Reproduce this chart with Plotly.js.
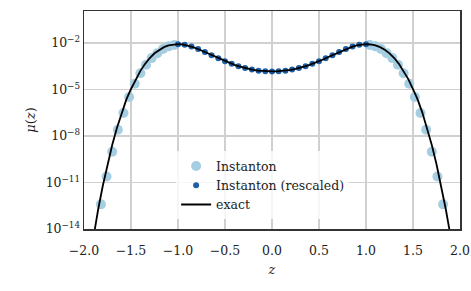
<!DOCTYPE html>
<html>
<head>
<meta charset="utf-8">
<script src="https://cdn.plot.ly/plotly-3.0.1.min.js"></script>
<style>html,body{margin:0;padding:0;background:#fff;}#plot{width:471px;height:291px;}</style>
</head>
<body>
<div id="plot"></div>
<script>
// exact curve
const exactZ = [-1.95,-1.90,-1.85,-1.80,-1.75,-1.70,-1.65,-1.60,-1.55,-1.50,-1.45,-1.40,-1.35,-1.30,-1.25,-1.20,-1.15,-1.10,-1.05,-1.00,
  -0.95,-0.90,-0.85,-0.80,-0.75,-0.70,-0.65,-0.60,-0.55,-0.50,-0.45,-0.40,-0.35,-0.30,-0.25,-0.20,-0.15,-0.10,-0.05,0.00,
  0.05,0.10,0.15,0.20,0.25,0.30,0.35,0.40,0.45,0.50,0.55,0.60,0.65,0.70,0.75,0.80,0.85,0.90,0.95,1.00,
  1.05,1.10,1.15,1.20,1.25,1.30,1.35,1.40,1.45,1.50,1.55,1.60,1.65,1.70,1.75,1.80,1.85,1.90,1.95];
const exactMu = [4.27e-17,3.31e-15,1.74e-13,6.17e-12,1.51e-10,2.63e-9,3.31e-8,3.09e-7,2.19e-6,1.07e-5,4.68e-5,1.58e-4,4.47e-4,1.07e-3,2.14e-3,3.63e-3,5.37e-3,6.92e-3,7.94e-3,8.32e-3,
  7.94e-3,6.92e-3,5.62e-3,4.37e-3,3.24e-3,2.40e-3,1.70e-3,1.23e-3,8.91e-4,6.61e-4,5.01e-4,3.89e-4,3.09e-4,2.51e-4,2.14e-4,1.86e-4,1.66e-4,1.55e-4,1.48e-4,1.45e-4,
  1.48e-4,1.55e-4,1.66e-4,1.86e-4,2.14e-4,2.51e-4,3.09e-4,3.89e-4,5.01e-4,6.61e-4,8.91e-4,1.23e-3,1.70e-3,2.40e-3,3.24e-3,4.37e-3,5.62e-3,6.92e-3,7.94e-3,8.32e-3,
  7.94e-3,6.92e-3,5.37e-3,3.63e-3,2.14e-3,1.07e-3,4.47e-4,1.58e-4,4.68e-5,1.07e-5,2.19e-6,3.09e-7,3.31e-8,2.63e-9,1.51e-10,6.17e-12,1.74e-13,3.31e-15,4.27e-17];

// Instanton (tails)
const instZ = [-1.82,-1.76,-1.70,-1.64,-1.58,-1.52,-1.46,-1.40,-1.34,-1.28,-1.22,-1.16,-1.10,-1.04,
  1.04,1.10,1.16,1.22,1.28,1.34,1.40,1.46,1.52,1.58,1.64,1.70,1.76,1.82];
const instMu = [3.89e-13,2.45e-11,9.55e-10,2.51e-8,3.02e-7,3.24e-6,2.34e-5,1.12e-4,3.89e-4,1.05e-3,2.19e-3,4.07e-3,6.03e-3,7.41e-3,
  7.41e-3,6.03e-3,4.07e-3,2.19e-3,1.05e-3,3.89e-4,1.12e-4,2.34e-5,3.24e-6,3.02e-7,2.51e-8,9.55e-10,2.45e-11,3.89e-13];

// Instanton (rescaled), middle
const rescZ = [-1.0,-0.929,-0.857,-0.786,-0.714,-0.643,-0.571,-0.5,-0.429,-0.357,-0.286,-0.214,-0.143,-0.071,0,
  0.071,0.143,0.214,0.286,0.357,0.429,0.5,0.571,0.643,0.714,0.786,0.857,0.929,1.0];
const rescMu = [8.32e-3,7.59e-3,5.89e-3,4.07e-3,2.63e-3,1.62e-3,1.02e-3,6.61e-4,4.47e-4,3.16e-4,2.40e-4,1.91e-4,1.62e-4,1.48e-4,1.45e-4,
  1.48e-4,1.62e-4,1.91e-4,2.40e-4,3.16e-4,4.47e-4,6.61e-4,1.02e-3,1.62e-3,2.63e-3,4.07e-3,5.89e-3,7.59e-3,8.32e-3];

const xTicks = [-2.0,-1.5,-1.0,-0.5,0.0,0.5,1.0,1.5,2.0];
const xTickText = ['\u22122.0','\u22121.5','\u22121.0','\u22120.5','0.0','0.5','1.0','1.5','2.0'];
const yTicks = [1e-14,1e-11,1e-8,1e-5,1e-2];
const yTickText = ['10<sup>\u221214</sup>','10<sup>\u221211</sup>','10<sup>\u22128</sup>','10<sup>\u22125</sup>','10<sup>\u22122</sup>'];

const FONT = 'DejaVu Serif';

const traces = [
  {x: instZ, y: instMu, type: 'scatter', mode: 'markers', name: 'Instanton',
   marker: {color: '#a6cee3', size: 10, line: {width: 0}}},
  {x: rescZ, y: rescMu, type: 'scatter', mode: 'markers', name: 'Instanton (rescaled)',
   marker: {color: '#1f5fa6', size: 6, line: {width: 0}}},
  {x: exactZ, y: exactMu, type: 'scatter', mode: 'lines', name: 'exact',
   line: {color: '#000000', width: 1.8}}
];

const layout = {
  width: 471, height: 291,
  margin: {l: 84, r: 11, t: 11, b: 62, pad: 0},
  paper_bgcolor: '#ffffff', plot_bgcolor: '#ffffff',
  font: {family: FONT, size: 12, color: '#222222'},
  showlegend: true,
  legend: {x: 0.245, y: 0.356, xanchor: 'left', yanchor: 'top',
    bgcolor: 'rgba(255,255,255,0.8)', borderwidth: 0, tracegroupgap: 0,
    font: {family: FONT, size: 12.5, color: '#222222'}, itemwidth: 30},
  xaxis: {range: [-2, 2], tickmode: 'array', tickvals: xTicks, ticktext: xTickText,
    showgrid: true, gridcolor: '#d0d0d0', gridwidth: 1.2, zeroline: false,
    showline: true, linecolor: '#333333', linewidth: 1.5, mirror: true,
    ticks: 'outside', ticklen: 9, tickcolor: 'rgba(0,0,0,0)',
    tickfont: {family: FONT, size: 12.5, color: '#222222'},
    title: {text: '<i>z</i>', font: {family: FONT, size: 13, color: '#222222'}, standoff: 8}},
  yaxis: {type: 'log', range: [-14, 0.06], tickmode: 'array', tickvals: yTicks, ticktext: yTickText,
    showgrid: true, gridcolor: '#d0d0d0', gridwidth: 1.2, zeroline: false,
    showline: true, linecolor: '#333333', linewidth: 1.5, mirror: true, ticks: '',
    tickfont: {family: FONT, size: 12.5, color: '#222222'},
    title: {text: '<i>\u03bc</i>(<i>z</i>)', font: {family: FONT, size: 13, color: '#222222'}, standoff: 7}}
};

Plotly.newPlot('plot', traces, layout, {staticPlot: true, displayModeBar: false});
</script>
</body>
</html>
